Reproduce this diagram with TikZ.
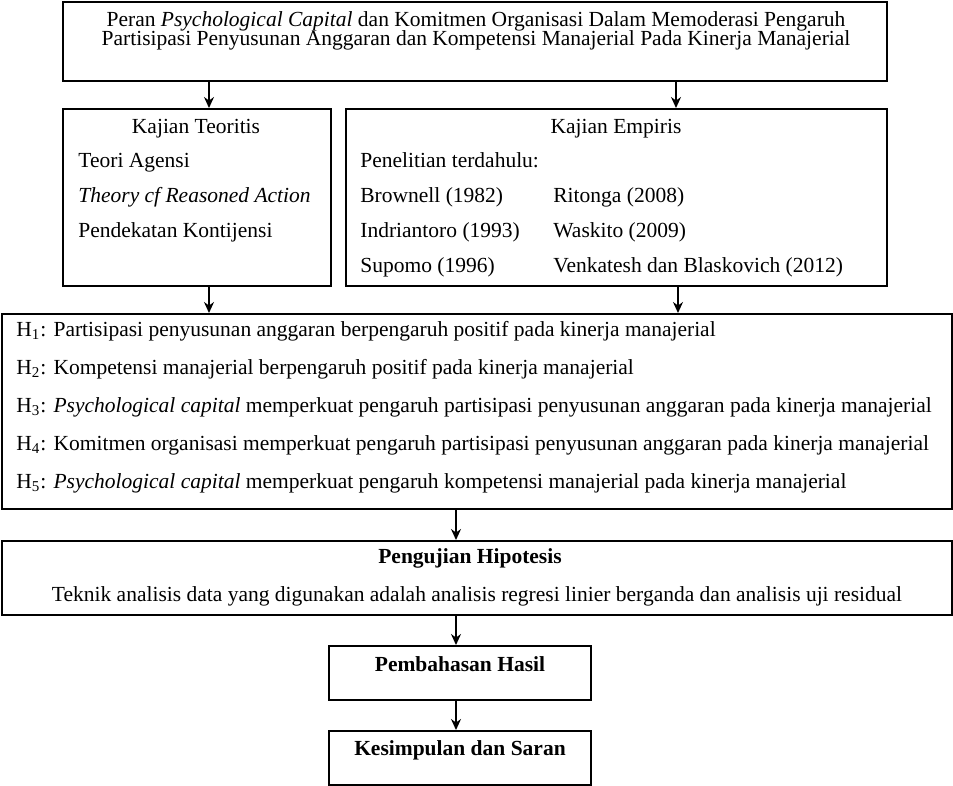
\documentclass[tikz,border=0pt]{standalone}
\usepackage{fontspec}
\setmainfont{Liberation Serif}
\usetikzlibrary{arrows.meta}

\begin{document}
\begin{tikzpicture}[x=0.5pt,y=-0.5pt,
		box/.style={draw,line width=1pt,rectangle,anchor=north west,inner sep=0pt},
		txt/.style={anchor=base west,inner sep=0pt},
		ctxt/.style={anchor=base,inner sep=0pt},
		arr/.style={line width=0.85pt,-{Stealth[length=5.5pt,width=5pt]}}]
		\useasboundingbox (0,0) rectangle (953,786);
		\begin{scope}[every node/.style={font=\fontsize{10.75}{12}\selectfont}]
			% boxes
			\node[box,minimum width=412pt,minimum height=39.5pt] (judul) at (62,1) {};
			\node[box,minimum width=134pt,minimum height=88.5pt] (teori) at (62,108) {};
			\node[box,minimum width=270.5pt,minimum height=88.5pt] (empiris) at (345,108) {};
			\node[box,minimum width=475pt,minimum height=97.5pt] (hipo) at (1,313) {};
			\node[box,minimum width=475pt,minimum height=37pt] (uji) at (1,540) {};
			\node[box,minimum width=131pt,minimum height=27pt] (bahas) at (328,645) {};
			\node[box,minimum width=131pt,minimum height=27pt] (simpul) at (328,730) {};

			% judul
			\node[ctxt] (j1) at (476,27) {Peran \textit{Psychological Capital} dan Komitmen Organisasi Dalam Memoderasi Pengaruh};
			\node[ctxt] (j2) at (476,46) {Partisipasi Penyusunan Anggaran dan Kompetensi Manajerial Pada Kinerja Manajerial};

			% kajian teoritis
			\node[ctxt] (tt) at (196,134) {Kajian Teoritis};
			\node[txt] (ta) at (78,168) {Teori Agensi};
			\node[txt] (tb) at (78,203) {\textit{Theory cf Reasoned Action}};
			\node[txt] (tc) at (78,238) {Pendekatan Kontijensi};

			% kajian empiris
			\node[ctxt] (et) at (616,134) {Kajian Empiris};
			\node[txt] (ea) at (360,168) {Penelitian terdahulu:};
			\node[txt] (eb) at (360,203) {Brownell (1982)};
			\node[txt] (ec) at (360,238) {Indriantoro (1993)};
			\node[txt] (ed) at (360,273) {Supomo (1996)};
			\node[txt] (ee) at (553,203) {Ritonga (2008)};
			\node[txt] (ef) at (553,238) {Waskito (2009)};
			\node[txt] (eg) at (553,273) {Venkatesh dan Blaskovich (2012)};

			% hipotesis
			\node[txt] (h1) at (16,336) {H\textsubscript{1}: Partisipasi penyusunan anggaran berpengaruh positif pada kinerja manajerial};
			\node[txt] (h2) at (16,374) {H\textsubscript{2}: Kompetensi manajerial berpengaruh positif pada kinerja manajerial};
			\node[txt] (h3) at (16,412) {H\textsubscript{3}: \textit{Psychological capital} memperkuat pengaruh partisipasi penyusunan anggaran pada kinerja manajerial};
			\node[txt] (h4) at (16,450) {H\textsubscript{4}: Komitmen organisasi memperkuat pengaruh partisipasi penyusunan anggaran pada kinerja manajerial};
			\node[txt] (h5) at (16,488) {H\textsubscript{5}: \textit{Psychological capital} memperkuat pengaruh kompetensi manajerial pada kinerja manajerial};

			% pengujian, pembahasan, kesimpulan
			\node[ctxt] (ut) at (470,563) {\textbf{Pengujian Hipotesis}};
			\node[ctxt] (ua) at (477,601) {Teknik analisis data yang digunakan adalah analisis regresi linier berganda dan analisis uji residual};
			\node[ctxt] (bt) at (460,671) {\textbf{Pembahasan Hasil}};
			\node[ctxt] (st) at (460,755) {\textbf{Kesimpulan dan Saran}};
		\end{scope}

		\begin{scope}[arr]
			\draw ([xshift=6pt]teori.north |- judul.south) -- ([xshift=6pt]teori.north);
			\draw ([xshift=29.75pt]empiris.north |- judul.south) -- ([xshift=29.75pt]empiris.north);
			\draw ([xshift=6pt]teori.south) -- ([xshift=6pt]teori.south |- hipo.north);
			\draw ([xshift=30.75pt]empiris.south) -- ([xshift=30.75pt]empiris.south |- hipo.north);
			\draw ([xshift=-2pt]bahas.north |- hipo.south) -- ([xshift=-2pt]bahas.north |- uji.north);
			\draw ([xshift=-2pt]bahas.north |- uji.south) -- ([xshift=-2pt]bahas.north);
			\draw ([xshift=-2pt]bahas.south) -- ([xshift=-2pt]simpul.north);
		\end{scope}
	\end{tikzpicture}
\end{document}
